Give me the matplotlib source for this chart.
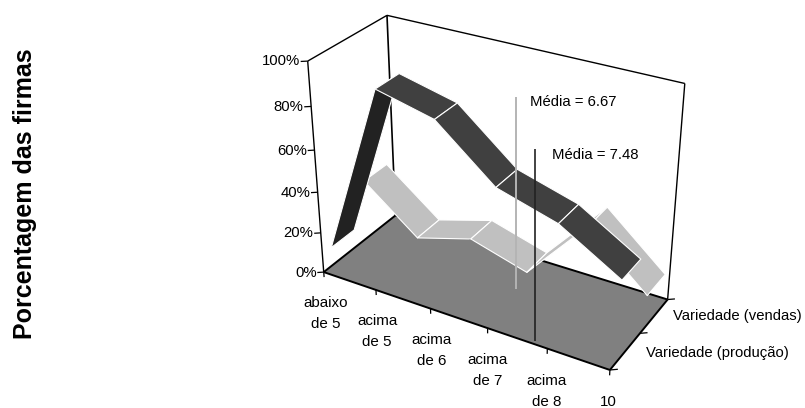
import numpy as np
import matplotlib
matplotlib.use('Agg')
import matplotlib.pyplot as plt
from mpl_toolkits.mplot3d.art3d import Poly3DCollection
from mpl_toolkits.mplot3d import proj3d

plt.rcParams['font.family']=['Liberation Sans','DejaVu Sans']

## Share of firms by product variety, 3D ribbon chart

categories=['abaixo\nde 5','acima\nde 5','acima\nde 6','acima\nde 7','acima\nde 8','10']
producao=[9.5,92,85.5,63,55,38.5]
vendas=[30,9,17,9,40,16]
pct_ticks=[0,20,40,60,80,100]
series_names=['Variedade (produção)','Variedade (vendas)']
y_title='Porcentagem das firmas'
medias=[6.67,7.48]

W=805
H=408
dark='#404040'
darker='#222222'
light='#C0C0C0'
floor='#808080'

# camera
elev=29.3262
azim=-59.8027
focal=0.5662
box=(1,0.4053,0.7258)
cam_s=2297.44
cam_tx=492.84
cam_ty=183.74

side=cam_s*0.185
cx=cam_tx-0.0025*cam_s
cy=cam_ty+0.0025*cam_s

fig=plt.figure(figsize=(W/100,H/100),dpi=100)
ax=fig.add_axes([(cx-side/2)/W,(H-cy-side/2)/H,side/W,side/H],projection='3d',computed_zorder=False)
ax.set_proj_type('persp',focal_length=focal)
ax.view_init(elev=elev,azim=azim)
ax.set_box_aspect(box)
nx=len(categories)-1
ax.set_xlim(0,nx)
ax.set_ylim(0,1)
ax.set_zlim(0,100)
ax.set_xticks([])
ax.set_yticks([])
ax.set_zticks([])
ax.set_axis_off()
ax.patch.set_visible(False)

# walls (outline only)
def edge(a,b,lw=1.0,z=1):
    ax.plot([a[0],b[0]],[a[1],b[1]],[a[2],b[2]],color='k',lw=lw,zorder=z,solid_capstyle='butt')

# text at a 3D point, placed as plain figure text
def label3d(x,y,z,s,**kw):
    X,Y,_=proj3d.proj_transform(x,y,z,ax.get_proj())
    px,py=ax.transData.transform((X,Y))
    fig.text(px/W,py/H,s,**kw)

edge((0,1,0),(0,1,100),1.2)
edge((0,0,100),(0,1,100))
edge((0,1,100),(nx,1,100))
edge((nx,1,100),(nx,1,0))

# floor
ax.add_collection3d(Poly3DCollection([[(0,0,0),(nx,0,0),(nx,1,0),(0,1,0)]],facecolors=floor,edgecolors='none',zorder=2))
edge((0,1,0),(nx,1,0),1.4,3)
edge((0,0,0),(0,1,0),1.4,3)
edge((0,0,0),(nx,0,0),1.4,3)
edge((nx,0,0),(nx,1,0),1.4,3)
edge((0,0,0),(0,0,100),1.0,3)

# ticks
for v in pct_ticks:
    edge((0,0,v),(-0.08,-0.03,v),0.9,3)
    label3d(-0.09,-0.033,v,'%d%%'%v,ha='right',va='center',fontsize=10.7)
for i,c in enumerate(categories):
    edge((i,0,0),(i,0,-2.6),0.9,3)
    label3d(i,0,-12.5,c,ha='center',va='top',fontsize=10.9,linespacing=1.62)
for t in [0,0.5,1]:
    edge((nx,t,0),(nx+0.09,t+0.035,0),0.9,3)

# ribbons, back series first
def ribbon(vals,y0,y1,colors,z):
    for i in range(len(vals)-1):
        v=[(i,y0,vals[i]),(i+1,y0,vals[i+1]),(i+1,y1,vals[i+1]),(i,y1,vals[i])]
        ax.add_collection3d(Poly3DCollection([v],facecolors=colors[i],edgecolors='white',linewidths=0.8,zorder=z+i*0.1))

ribbon(vendas,0.58,0.90,[light]*5,4)
ribbon(producao,0.11,0.415,[darker,dark,dark,dark,dark],5)

# overlay: x runs in the variety scale, y in pixels from the top
ov=fig.add_axes([0,0,1,1],zorder=5)
ov.patch.set_visible(False)
k=(535-516)/(medias[1]-medias[0])
ov.set_xlim(medias[0]-516/k,medias[0]+(W-516)/k)
ov.set_ylim(H,0)
ov.set_xticks([])
ov.set_yticks([])
ov.set_axis_off()

ov.plot([medias[0]]*2,[97,289],color='#B4B4B4',lw=1.4,solid_capstyle='butt')
ov.plot([medias[1]]*2,[149,341],color='#222222',lw=1.2,solid_capstyle='butt')
ov.text(medias[0]+14/k,102,'Média = %.2f'%medias[0],ha='left',va='center',fontsize=10.7)
ov.text(medias[1]+17/k,155,'Média = %.2f'%medias[1],ha='left',va='center',fontsize=10.7)

fig.text(646/W,1-353/H,series_names[0],ha='left',va='center',fontsize=10.7)
fig.text(673/W,1-316/H,series_names[1],ha='left',va='center',fontsize=10.7)
fig.text(25/W,1-194/H,y_title,rotation=90,ha='center',va='center',fontsize=18,fontweight='bold')

fig.savefig('out.png',dpi=100)
